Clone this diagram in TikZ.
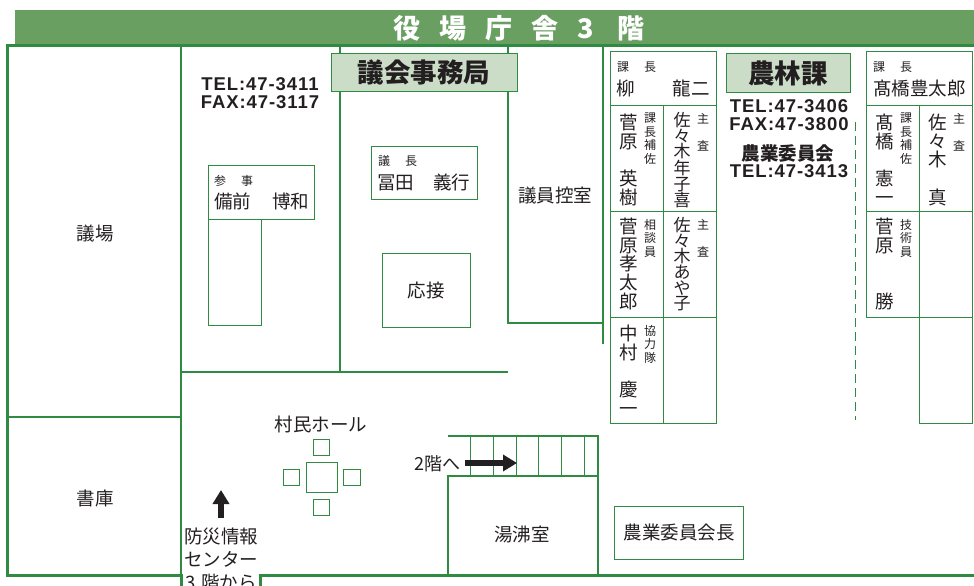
\documentclass[tikz,border=0pt]{standalone}
\usepackage{fontspec}
\usetikzlibrary{arrows.meta}
\setmainfont{Liberation Sans}
\newfontfamily\cjk{Noto Sans CJK JP}
\newfontfamily\telfont[LetterSpace=5]{Liberation Sans}
\definecolor{wallgreen}{HTML}{2F8A42}
\definecolor{bandgreen}{HTML}{6A9F62}
\definecolor{signgreen}{HTML}{CBDCC7}
\definecolor{ink}{HTML}{231F20}
\begin{document}
\begin{tikzpicture}[
		x=1pt, y=-1pt,
		wall/.style = {draw=wallgreen, line width=2.2pt},
		outer/.style = {draw=wallgreen, line width=3pt},
		desk/.style = {draw=wallgreen, line width=1pt},
		sign/.style = {desk, fill=signgreen},
		room/.style = {font=\fontsize{18.5}{20}\selectfont\cjk, text=ink, inner sep=0pt},
		role/.style = {font=\fontsize{12}{13.4}\selectfont\cjk, text=ink, inner sep=0pt, align=center, anchor=north},
		fullname/.style = {font=\fontsize{18.5}{18.6}\selectfont\cjk, text=ink, inner sep=0pt, align=center, anchor=north},
		tight/.style = {fullname, font=\fontsize{17}{15.7}\selectfont\cjk},
		line1/.style = {font=\fontsize{18.5}{20}\selectfont\cjk, text=ink, inner sep=0pt, anchor=west},
		caption/.style = {font=\fontsize{12}{14}\selectfont\cjk, text=ink, inner sep=0pt, anchor=west},
		tel/.style = {font=\fontsize{18.5}{18.5}\selectfont\bfseries\telfont, text=ink, inner sep=0pt, align=center},
		signtext/.style = {font=\fontsize{26.5}{28}\selectfont\cjk\bfseries, text=ink, inner sep=0pt},
		bigarrow/.style = {line width=5.5pt, draw=ink, -{Triangle[length=14pt,width=16pt]}}]

	\useasboundingbox (0,0) rectangle (974,586);
	\clip (0,0) rectangle (974,586);

	% header band
	\fill[bandgreen] (15,10) rectangle (974,45);
	\node[font=\fontsize{27}{28}\selectfont\cjk\bfseries, text=white, inner sep=0pt] (title) at (519,28)
		{役\hspace{19pt}場\hspace{19pt}庁\hspace{19pt}舎\hspace{19pt}3\hspace{24pt}階};

	% walls
	\draw[outer] (974,46) -- (7,46) -- (7,575) -- (181,575) -- (181,586);
	\draw[outer] (260,586) -- (260,575) -- (974,575);
	\draw[wall] (181,46) -- (181,575);
	\draw[wall] (7,417) -- (181,417);
	\draw[wall] (340,46) -- (340,372);
	\draw[wall] (508,46) -- (508,323) -- (603,323);
	\draw[wall] (603,46) -- (603,344);
	\draw[wall] (181,372) -- (508,372);

	% stairs and kitchenette
	\draw[wall] (448,436) -- (598,436) -- (598,575);
	\draw[wall] (448,575) -- (448,476) -- (598,476);
	\foreach \value in {470.5,493,516,538.5,561.5,584}
	\draw[desk] (\value,436) -- (\value,476);

	% desks
	\draw[desk] (610.5,52) rectangle (716.5,105);
	\foreach \value/\next in {105/211.5,211.5/317.5,317.5/423} {
		\draw[desk] (610.5,\value) rectangle (663.5,\next);
		\draw[desk] (663.5,\value) rectangle (716.5,\next);
	}
	\draw[desk] (866.5,52) rectangle (972.5,105);
	\foreach \value/\next in {105/211.5,211.5/317.5} {
		\draw[desk] (866.5,\value) rectangle (919.5,\next);
		\draw[desk] (919.5,\value) rectangle (972.5,\next);
	}
	\draw[desk] (919.5,317.5) rectangle (972.5,423);
	\draw[desk] (208,165.5) rectangle (314,219);
	\draw[desk] (208,219) rectangle (261,325);
	\draw[desk] (371.5,146) rectangle (477,199);
	\draw[desk] (382.5,253) rectangle (470,327);
	\draw[desk] (614,506) rectangle (743,559);
	\draw[desk, dash pattern=on 9pt off 5pt] (855,122) -- (855,420);

	% hall table
	\draw[desk] (306,462) rectangle (337,492);
	\draw[desk] (313,439) rectangle (329,455);
	\draw[desk] (283,469) rectangle (299,485);
	\draw[desk] (343.5,469) rectangle (360,485);
	\draw[desk] (313,499) rectangle (329,515);

	% signs
	\node[sign, minimum width=186pt, minimum height=37pt, inner sep=0pt] (jimukyoku) at (424,72.5) {};
	\node[signtext] at (jimukyoku) {議会事務局};
	\node[sign, minimum width=124pt, minimum height=38pt, inner sep=0pt] (norin) at (788,73) {};
	\node[signtext] at (norin) {農林課};

	% phone numbers
	\node[tel] (telgikai) at (260,93) {TEL:47-3411\\FAX:47-3117};
	\node[tel] (telnorin) at (789,115) {TEL:47-3406\\FAX:47-3800};
	\node[font=\fontsize{18.5}{18}\selectfont\cjk\bfseries, text=ink, inner sep=0pt] (iinkai) at (788,153) {農業委員会};
	\node[tel] (teliinkai) at (789,171) {TEL:47-3413};

	% rooms
	\node[room] (gijo) at (95,234) {議場};
	\node[room] (shoko) at (95,498) {書庫};
	\node[room] (hikae) at (555,196) {議員控室};
	\node[room] (osetsu) at (426,290) {応接};
	\node[room] (hall) at (321,424) {村民ホール};
	\node[room] (kitchen) at (522,534) {湯沸室};
	\node[room] (chairman) at (679,532) {農業委員会長};
	\node[room, font=\fontsize{18}{20}\selectfont\cjk] (tofloor) at (437,464) {2階へ};
	\node[room, align=center, font=\fontsize{18.5}{22.8}\selectfont\cjk, anchor=north] (bosai) at (221,528) {防災情報\\センター\\3\hspace{6pt}階から};

	% arrows
	\coordinate (upstart) at (221,518);
	\coordinate (upend) at (221,490);
	\coordinate (rightstart) at (465,463);
	\coordinate (rightend) at (517,463);
	\draw[bigarrow] (upstart) -- (upend);
	\draw[bigarrow] (rightstart) -- (rightend);

	% horizontal name plates
	\node[caption] (sanji) at (214,181) {参\hspace{15pt}事};
	\node[line1] (bizen) at (214,201) {備前\hspace{21pt}博和};
	\node[caption] (gicho) at (378,161) {議\hspace{15pt}長};
	\node[line1] (tomita) at (377,182) {冨田\hspace{19pt}義行};
	\node[caption] (kacho1) at (617,67) {課\hspace{15pt}長};
	\node[line1] (yanagi) at (616,88) {柳\hspace{38pt}龍二};
	\node[caption] (kacho2) at (873,67) {課\hspace{15pt}長};
	\node[line1] (takahashi) at (873,88) {髙橋豊太郎};

	% vertical name plates, left desks
	\node[fullname] (sugawara1) at (629,114) {菅\\原\\~\\英\\樹};
	\node[role] (role1) at (650,113) {課\\長\\補\\佐};
	\node[tight] (sasaki1) at (682,112) {佐\\々\\木\\年\\子\\喜};
	\node[role] (role2) at (703,113) {主\\~\\査};
	\node[fullname] (sugawara2) at (629,218) {菅\\原\\孝\\太\\郎};
	\node[role] (role3) at (650,219) {相\\談\\員};
	\node[tight] (sasaki2) at (682,217) {佐\\々\\木\\あ\\や\\子};
	\node[role] (role4) at (703,219) {主\\~\\査};
	\node[fullname] (nakamura) at (629,325) {中\\村\\~\\慶\\一};
	\node[role] (role5) at (650,325) {協\\力\\隊};

	% vertical name plates, right desks
	\node[fullname] (takahashi2) at (885,114) {髙\\橋\\~\\憲\\一};
	\node[role] (role6) at (906,113) {課\\長\\補\\佐};
	\node[fullname] (sasaki3) at (938,114) {佐\\々\\木\\~\\真};
	\node[role] (role7) at (959,113) {主\\~\\査};
	\node[fullname] (sugawara3) at (885,218) {菅\\原\\~\\~\\勝};
	\node[role] (role8) at (906,219) {技\\術\\員};
\end{tikzpicture}
\end{document}
